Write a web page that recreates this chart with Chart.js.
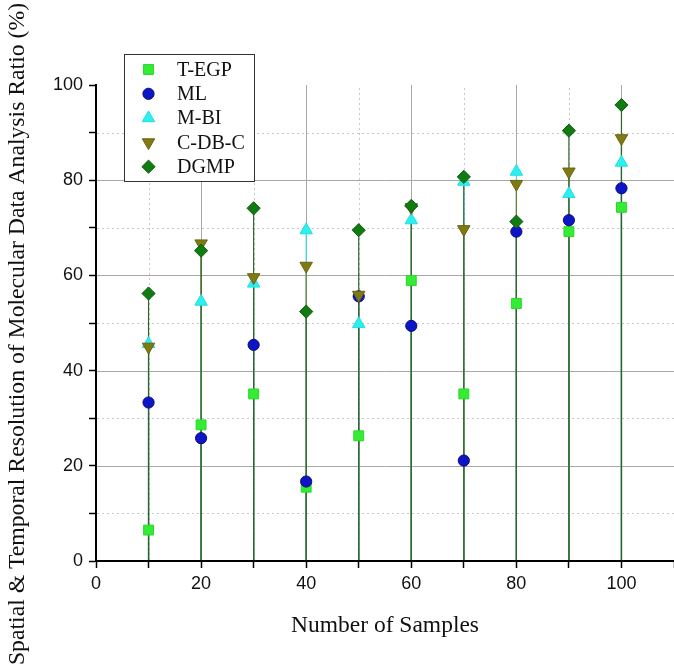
<!DOCTYPE html>
<html><head><meta charset="utf-8">
<script src="https://cdn.jsdelivr.net/npm/chart.js@4.4.0/dist/chart.umd.min.js"></script>
<style>html,body{margin:0;padding:0;background:#fff;}#wrap{width:674px;height:671px;}</style>
</head><body><div id="wrap"><canvas id="c" width="674" height="671"></canvas></div>
<script>
// ---- data ----
const xValues = [10, 20, 30, 40, 50, 60, 70, 80, 90, 100];
const seriesNames = ['T-EGP', 'ML', 'M-BI', 'C-DB-C', 'DGMP'];
const tegp = [6.5, 28.6, 35.1, 15.5, 26.3, 58.9, 35.1, 54.1, 69.2, 74.3];
const ml   = [33.3, 25.8, 45.4, 16.7, 55.6, 49.4, 21.1, 69.2, 71.6, 78.3];
const mbi  = [45.6, 54.5, 58.3, 69.5, 49.8, 71.6, 79.7, 81.8, 77.1, 83.7];
const cdbc = [45.0, 66.7, 59.6, 62.0, 55.9, 74.3, 69.7, 79.2, 81.8, 88.8];
const dgmp = [56.2, 65.2, 74.1, 52.4, 69.5, 74.6, 80.7, 71.3, 90.4, 95.8];
const xLabelTicks = [0, 20, 40, 60, 80, 100];
const yLabelTicks = [0, 20, 40, 60, 80, 100];
const xMajorGrid = [20, 40, 60, 80, 100];
const xMinorGrid = [10, 30, 50, 70, 90];
const yMajorGrid = [20, 40, 60, 80];
const yMinorGrid = [10, 30, 50, 70, 90];
const xTitle = 'Number of Samples';
const yTitle = 'Spatial & Temporal Resolution of Molecular Data Analysis Ratio (%)';

// ---- styles ----
const seriesValues = [tegp, ml, mbi, cdbc, dgmp];
const fills   = ['#34ec34', '#0d16c6', '#2cf0f0', '#807a12', '#117a11'];
const borders = ['#2ad82a', '#0a0a78', '#22dede', '#6a6410', '#0b600b'];
const dropColors = ['#5ad85a', '#3a3ac0', '#30e4e4', '#7e7a2a', '#2c642c'];
const styles  = ['rect', 'circle', 'triangle', 'triangle', 'rectRot'];
const rotations = [0, 0, 0, 180, 0];
const radii   = [7, 5.6, 7.2, 7.2, 6.6];

const datasets = seriesNames.map((name, i) => ({
  label: name,
  data: xValues.map((x, j) => ({x: x, y: seriesValues[i][j]})),
  pointStyle: styles[i],
  rotation: rotations[i],
  pointRadius: radii[i],
  backgroundColor: fills[i],
  borderColor: borders[i],
  borderWidth: 1,
  order: seriesNames.length - i,
  showLine: false,
  clip: false
}));

function line(ctx, x1, y1, x2, y2) { ctx.beginPath(); ctx.moveTo(x1, y1); ctx.lineTo(x2, y2); ctx.stroke(); }

const decor = {
  id: 'decor',
  beforeDatasetsDraw(chart) {
    const {ctx, chartArea: ca, scales: {x, y}} = chart;
    const y0 = y.getPixelForValue(0), yTop = y.getPixelForValue(100);
    ctx.save();
    ctx.lineWidth = 1;
    ctx.strokeStyle = '#a8a8a8';
    ctx.setLineDash([]);
    yMajorGrid.forEach(v => { const py = Math.round(y.getPixelForValue(v)) + 0.5; line(ctx, ca.left + 1, py, ca.right, py); });
    xMajorGrid.forEach(v => { const px = Math.round(x.getPixelForValue(v)) + 0.5; line(ctx, px, y0 - 1, px, yTop); });
    ctx.strokeStyle = '#c8c8c8';
    ctx.setLineDash([2, 3]);
    yMinorGrid.forEach(v => { const py = Math.round(y.getPixelForValue(v)) + 0.5; line(ctx, ca.left + 1, py, ca.right, py); });
    xMinorGrid.forEach(v => { const px = Math.round(x.getPixelForValue(v)) + 0.5; line(ctx, px, y0 - 1, px, yTop); });
    ctx.setLineDash([]);
    chart.data.datasets.forEach((ds, i) => {
      ctx.strokeStyle = dropColors[i];
      ctx.lineWidth = 1.2;
      ds.data.forEach(p => {
        const px = x.getPixelForValue(p.x);
        line(ctx, px, y0 - 1, px, y.getPixelForValue(p.y));
      });
    });
    ctx.restore();
  },
  afterDraw(chart) {
    const ctx = chart.ctx;
    ctx.save();
    // legend box
    const bx = 124.5, by = 54.5, bw = 130, bh = 127;
    ctx.fillStyle = '#fff';
    ctx.fillRect(bx, by, bw, bh);
    ctx.strokeStyle = '#333';
    ctx.lineWidth = 1;
    ctx.strokeRect(bx, by, bw, bh);
    chart.data.datasets.forEach((ds, i) => {
      const cy = 69.5 + i * 24.3;
      ctx.fillStyle = ds.backgroundColor;
      ctx.strokeStyle = ds.borderColor;
      ctx.lineWidth = 1;
      Chart.helpers.drawPoint(ctx, {pointStyle: ds.pointStyle, radius: ds.pointRadius, rotation: ds.rotation, borderWidth: 1}, 148.5, cy);
      ctx.fillStyle = '#111';
      ctx.font = '20px "Liberation Serif"';
      ctx.textAlign = 'left';
      ctx.textBaseline = 'middle';
      ctx.fillText(ds.label, 177, cy + 1);
    });
    // y title
    ctx.translate(18, 334);
    ctx.rotate(-Math.PI / 2);
    ctx.fillStyle = '#111';
    ctx.font = '23.7px "Liberation Serif"';
    ctx.textAlign = 'center';
    ctx.textBaseline = 'middle';
    ctx.fillText(yTitle, 0, 0);
    ctx.restore();
  }
};

new Chart(document.getElementById('c'), {
  type: 'scatter',
  data: {datasets: datasets},
  plugins: [decor],
  options: {
    responsive: false,
    animation: false,
    layout: {autoPadding: false, padding: {top: 85, left: 0, right: 0, bottom: 0}},
    plugins: {legend: {display: false}, tooltip: {enabled: false}},
    scales: {
      x: {
        type: 'linear', min: 0, max: 110,
        afterFit(s) { s.height = 110; s.paddingLeft = 0; s.paddingRight = 0; },
        ticks: {
          stepSize: 10, autoSkip: false, maxRotation: 0, padding: 5,
          callback: v => xLabelTicks.includes(v) ? String(v) : '',
          font: {family: 'Liberation Sans', size: 18}, color: '#111'
        },
        grid: {drawOnChartArea: false, drawTicks: true, tickLength: 7, tickColor: '#000', tickWidth: 1.5},
        border: {display: true, color: '#000', width: 2},
        title: {display: true, text: xTitle, font: {family: 'Liberation Serif', size: 23.5}, color: '#111', padding: {top: 0, bottom: 31}}
      },
      y: {
        type: 'linear', min: 0, max: 100,
        afterFit(s) { s.width = 96; },
        ticks: {
          stepSize: 10, autoSkip: false, padding: 6,
          callback: v => yLabelTicks.includes(v) ? String(v) : '',
          font: {family: 'Liberation Sans', size: 18}, color: '#111'
        },
        grid: {drawOnChartArea: false, drawTicks: true, tickLength: 7, tickColor: '#000', tickWidth: 1.5},
        border: {display: true, color: '#000', width: 2}
      }
    }
  }
});
</script>
</body></html>
